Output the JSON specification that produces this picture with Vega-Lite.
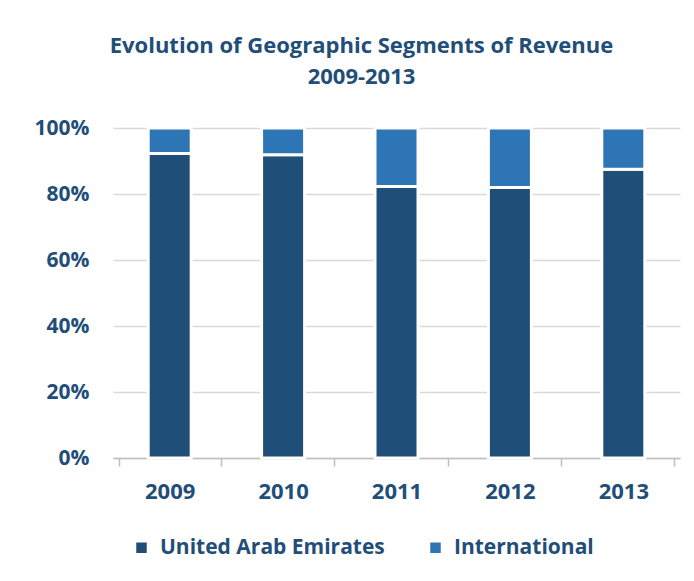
{
  "$schema": "https://vega.github.io/schema/vega-lite/v6.json",
  "width": 567,
  "height": 330,
  "autosize": "none",
  "padding": {"left": 113, "top": 128, "right": 14, "bottom": 123},
  "background": "white",
  "title": {
    "text": ["Evolution of Geographic Segments of Revenue", "2009-2013"],
    "font": "Open Sans",
    "fontSize": 22,
    "fontWeight": "bold",
    "color": "#1f4e79",
    "anchor": "middle",
    "dx": -35,
    "offset": 28,
    "lineHeight": 31
  },
  "data": {
    "values": [
      {"year": "2009", "segment": "United Arab Emirates", "share": 0.923},
      {"year": "2009", "segment": "International", "share": 0.077},
      {"year": "2010", "segment": "United Arab Emirates", "share": 0.919},
      {"year": "2010", "segment": "International", "share": 0.081},
      {"year": "2011", "segment": "United Arab Emirates", "share": 0.823},
      {"year": "2011", "segment": "International", "share": 0.177},
      {"year": "2012", "segment": "United Arab Emirates", "share": 0.82},
      {"year": "2012", "segment": "International", "share": 0.18},
      {"year": "2013", "segment": "United Arab Emirates", "share": 0.875},
      {"year": "2013", "segment": "International", "share": 0.125}
    ]
  },
  "mark": {"type": "bar", "size": 43, "stroke": "white", "strokeWidth": 3},
  "encoding": {
    "x": {
      "field": "year",
      "type": "nominal",
      "title": null,
      "axis": {
        "labelAngle": 0,
        "labelFont": "Open Sans",
        "labelFontSize": 22,
        "labelFontWeight": "bold",
        "labelColor": "#1f4e79",
        "labelPadding": 15,
        "tickBand": "extent",
        "tickSize": 8,
        "tickColor": "#bfbfbf",
        "tickWidth": 1.5,
        "domainColor": "#bfbfbf",
        "domainWidth": 1.5,
        "grid": false
      }
    },
    "y": {
      "field": "share",
      "type": "quantitative",
      "stack": "zero",
      "title": null,
      "scale": {"domain": [0, 1]},
      "axis": {
        "format": ".0%",
        "values": [0, 0.2, 0.4, 0.6, 0.8, 1],
        "labelFont": "Open Sans",
        "labelFontSize": 21,
        "labelFontWeight": "bold",
        "labelColor": "#1f4e79",
        "labelPadding": 24,
        "domain": false,
        "ticks": false,
        "grid": true,
        "gridColor": "#d9d9d9",
        "gridWidth": 1.5
      }
    },
    "color": {
      "field": "segment",
      "type": "nominal",
      "scale": {
        "domain": ["United Arab Emirates", "International"],
        "range": ["#1f4e79", "#2e75b6"]
      },
      "legend": {
        "title": null,
        "orient": "none",
        "direction": "horizontal",
        "legendX": 18,
        "legendY": 409,
        "symbolType": "square",
        "symbolSize": 110,
        "symbolStrokeWidth": 0,
        "labelFont": "Open Sans",
        "labelFontSize": 21,
        "labelFontWeight": "bold",
        "labelColor": "#1f4e79",
        "labelOffset": 8,
        "labelLimit": 400,
        "columnPadding": 40
      }
    },
    "order": {"field": "segment", "sort": "descending"}
  },
  "config": {"view": {"stroke": null}}
}
